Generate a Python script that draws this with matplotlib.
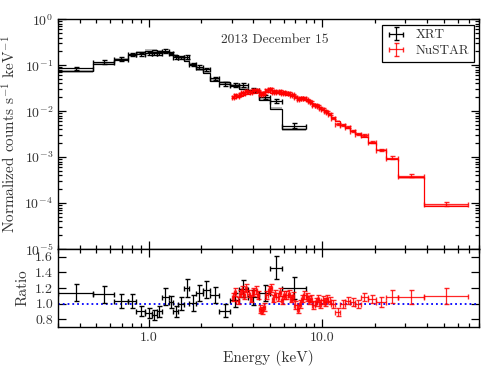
import numpy as np
import matplotlib
matplotlib.use('Agg')
import matplotlib.pyplot as plt
from matplotlib.ticker import FixedLocator, FixedFormatter, LogLocator, NullFormatter

plt.rcParams['font.family'] = 'serif'
plt.rcParams['font.serif'] = ['cmr10']
plt.rcParams['mathtext.fontset'] = 'cm'
plt.rcParams['axes.formatter.use_mathtext'] = True
plt.rcParams['axes.unicode_minus'] = False

# XRT spectrum (bin edges in keV, data in counts/s/keV, data/model ratio)
xrt_edges = [0.3, 0.48, 0.633, 0.755, 0.85, 0.954, 1.043, 1.115, 1.19, 1.307,
             1.379, 1.48, 1.595, 1.71, 1.88, 2.04, 2.26, 2.54, 2.95, 3.32,
             3.71, 4.33, 5.0, 5.86, 8.05]
xrt_flux = [0.085, 0.119, 0.136, 0.172, 0.172, 0.181, 0.181, 0.181, 0.206, 0.181,
            0.148, 0.148, 0.148, 0.104, 0.092, 0.081, 0.0515, 0.0387, 0.0375, 0.0368,
            0.029, 0.0204, 0.0164, 0.00485]
xrt_ratio = [1.14, 1.12, 1.035, 1.03, 0.91, 0.88, 0.85, 0.90, 1.09, 1.02,
             0.90, 1.0, 1.2, 1.01, 1.14, 1.18, 1.11, 0.91, 1.05, 1.19,
             1.08, 1.14, 1.46, 1.20]
xrt_rerr = [0.11, 0.11, 0.09, 0.09, 0.065, 0.065, 0.065, 0.065, 0.11, 0.08,
            0.07, 0.08, 0.12, 0.1, 0.1, 0.11, 0.1, 0.08, 0.09, 0.11,
            0.1, 0.1, 0.15, 0.14]

# NuSTAR spectrum (bin edges in keV, model in counts/s/keV, data/model ratio)
nu_edges = [3.0, 3.1, 3.2, 3.3, 3.4, 3.5, 3.6, 3.7, 3.82, 3.94,
            4.06, 4.18, 4.3, 4.43, 4.56, 4.69, 4.83, 4.97, 5.12, 5.28,
            5.44, 5.6, 5.77, 5.94, 6.12, 6.3, 6.49, 6.69, 6.89, 7.1,
            7.32, 7.54, 7.77, 8.0, 8.24, 8.49, 8.75, 9.02, 9.3, 9.58,
            9.87, 10.17, 10.48, 10.8, 11.2, 11.85, 12.66, 13.53, 14.46, 15.45,
            16.7, 18.2, 20.4, 23.2, 27.4, 38.6, 69.4]
nu_model = [0.0190, 0.0197, 0.0204, 0.0211, 0.0218, 0.0225, 0.0231, 0.0237, 0.0243, 0.0248,
            0.0252, 0.0255, 0.0257, 0.0258, 0.0258, 0.0257, 0.0255, 0.0253, 0.0250, 0.0247,
            0.0243, 0.0239, 0.0235, 0.0231, 0.0226, 0.0221, 0.0216, 0.0210, 0.0204, 0.0197,
            0.0190, 0.0182, 0.0174, 0.0165, 0.0157, 0.0149, 0.0141, 0.0132, 0.0123, 0.0115,
            0.0107, 0.0099, 0.0091, 0.0084, 0.0070, 0.0060, 0.0051, 0.0043, 0.0037, 0.0032,
            0.00275, 0.00205, 0.0014, 0.00089, 0.00036, 0.000088]
nu_ratio = [1.09, 1.15, 1.04, 1.13, 1.17, 1.11, 1.20, 1.13, 1.065, 1.15,
            1.17, 1.11, 0.935, 0.913, 0.957, 1.11, 1.17, 1.20, 1.065, 1.13,
            1.087, 1.15, 1.043, 1.11, 1.11, 1.13, 1.065, 1.10, 0.978, 0.935,
            1.0, 1.065, 1.11, 1.087, 1.043, 1.065, 0.978, 1.022, 1.065, 1.0,
            1.043, 1.022, 1.065, 1.04, 1.0, 0.89, 1.0, 1.04, 1.02, 1.0,
            1.09, 1.06, 1.02, 1.09, 1.09, 1.095]
nu_rerr = [0.05, 0.05, 0.05, 0.05, 0.05, 0.05, 0.05, 0.05, 0.05, 0.05,
           0.05, 0.05, 0.05, 0.05, 0.05, 0.05, 0.05, 0.05, 0.05, 0.05,
           0.05, 0.05, 0.05, 0.05, 0.05, 0.05, 0.05, 0.05, 0.05, 0.05,
           0.05, 0.05, 0.05, 0.05, 0.05, 0.05, 0.05, 0.05, 0.05, 0.05,
           0.05, 0.05, 0.05, 0.05, 0.05, 0.05, 0.05, 0.05, 0.05, 0.05,
           0.05, 0.05, 0.06, 0.08, 0.09, 0.10]

date_label = "2013 December 15"


def bins(edges):
    e = np.array(edges)
    cen = np.sqrt(e[:-1] * e[1:])
    return e, cen, [cen - e[:-1], e[1:] - cen]


xe, xc, xw = bins(xrt_edges)
ne, nc, nw = bins(nu_edges)

xrt_flux = np.array(xrt_flux)
xrt_ratio = np.array(xrt_ratio)
xrt_model = xrt_flux / xrt_ratio
xrt_ferr = xrt_flux * np.array(xrt_rerr) / xrt_ratio

nu_model = np.array(nu_model)
nu_ratio = np.array(nu_ratio)
nu_flux = nu_model * nu_ratio
nu_ferr = nu_model * np.array(nu_rerr)

fig = plt.figure(figsize=(4.91, 3.70), dpi=100)
ax = fig.add_axes([0.118, 0.327, 0.858, 0.621])
axr = fig.add_axes([0.118, 0.116, 0.858, 0.211], sharex=ax)

# model steps with a shaded band
ax.stairs(xrt_model * 1.07, xe, baseline=xrt_model * 0.93, fill=True, color='#888888', alpha=0.6, lw=0)
ax.stairs(xrt_model, xe, baseline=None, color='k', lw=0.9)
ax.stairs(nu_model * 1.05, ne, baseline=nu_model * 0.95, fill=True, color='#ff6060', alpha=0.6, lw=0)
ax.stairs(nu_model, ne, baseline=None, color='red', lw=0.9)

h1 = ax.errorbar(xc, xrt_flux, xerr=xw, yerr=xrt_ferr, fmt='none', ecolor='k',
                 elinewidth=0.9, capsize=1.8, label='XRT')
h2 = ax.errorbar(nc, nu_flux, xerr=nw, yerr=nu_ferr, fmt='none', ecolor='red',
                 elinewidth=0.9, capsize=1.8, alpha=0.85, label='NuSTAR')

ax.set_xscale('log')
ax.set_yscale('log')
ax.set_xlim(0.3, 80)
ax.set_ylim(1e-5, 1)
ax.set_ylabel(r'Normalized counts s$^{-1}$ keV$^{-1}$', fontsize=11, color='#333333')
ax.text(0.514, 0.91, date_label, transform=ax.transAxes, ha='center', va='center',
        fontsize=9.7, color='#333333')
leg = ax.legend(handles=[h1, h2], loc='upper right', fontsize=9.5, fancybox=False,
                edgecolor='k', framealpha=1, handlelength=1.4, borderaxespad=0.4,
                labelspacing=0.25, borderpad=0.35)
leg.get_frame().set_linewidth(0.9)
for t in leg.get_texts():
    t.set_color('#333333')

# ratio panel
axr.axhline(1.0, color='blue', ls=':', lw=1.3)
axr.errorbar(xc, xrt_ratio, xerr=xw, yerr=xrt_rerr, fmt='none', ecolor='k',
             elinewidth=0.9, capsize=1.8)
axr.errorbar(nc, nu_ratio, xerr=nw, yerr=nu_rerr, fmt='none', ecolor='red',
             elinewidth=0.9, capsize=1.8, alpha=0.85)
axr.set_ylim(0.7, 1.7)
axr.yaxis.set_major_locator(FixedLocator([0.8, 1.0, 1.2, 1.4, 1.6]))
axr.yaxis.set_major_formatter(FixedFormatter(['0.8', '1.0', '1.2', '1.4', '1.6']))
axr.set_ylabel('Ratio', fontsize=11, color='#333333')
axr.set_xlabel('Energy (keV)', fontsize=11, color='#333333')

axr.xaxis.set_major_locator(FixedLocator([1.0, 10.0]))
axr.xaxis.set_major_formatter(FixedFormatter(['1.0', '10.0']))
axr.xaxis.set_minor_locator(LogLocator(base=10, subs=np.arange(2, 10)))
axr.xaxis.set_minor_formatter(NullFormatter())
ax.yaxis.set_major_locator(LogLocator(base=10, numticks=10))
ax.yaxis.set_minor_locator(LogLocator(base=10, subs=np.arange(2, 10), numticks=10))
ax.yaxis.set_minor_formatter(NullFormatter())
plt.setp(ax.get_xticklabels(), visible=False)

for a in (ax, axr):
    a.tick_params(which='both', direction='in', top=True, right=True, labelsize=10,
                  labelcolor='#333333', width=0.9)
    a.tick_params(which='major', length=6)
    a.tick_params(which='minor', length=3)
    for s in a.spines.values():
        s.set_linewidth(1.0)

fig.savefig('out.png', dpi=100)
